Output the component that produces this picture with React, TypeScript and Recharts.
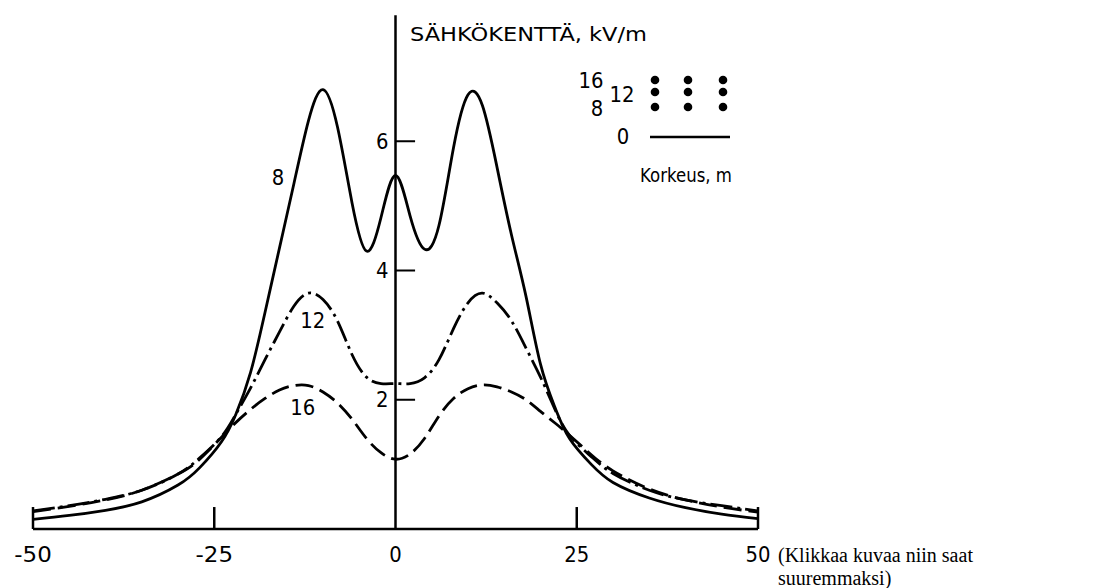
import React from 'react';
import { LineChart, Line, XAxis, YAxis, ReferenceLine, ReferenceDot } from 'recharts';

// distance from the line centre, m
const distance = [
  -50, -45, -40, -35, -30, -27, -24, -22, -20, -18, -16, -14, -12, -10, -8, -6, -4, -2, 0,
  2, 4, 6, 8, 10, 12, 14, 16, 18, 20, 22, 24, 27, 30, 35, 40, 45, 50,
];

// electric field (kV/m) at conductor heights 8, 12 and 16 m
const field8 = [
  0.15, 0.21, 0.29, 0.42, 0.68, 0.95, 1.35, 1.78, 2.42, 3.35, 4.35, 5.35, 6.32, 6.8, 6.22, 5.05, 4.3, 4.82, 5.47,
  4.85, 4.33, 4.7, 5.9, 6.72, 6.55, 5.6, 4.55, 3.6, 2.55, 1.88, 1.4, 1.0, 0.72, 0.48, 0.33, 0.23, 0.16,
];
const field12 = [
  0.28, 0.36, 0.46, 0.6, 0.85, 1.1, 1.43, 1.78, 2.18, 2.62, 3.05, 3.45, 3.65, 3.55, 3.22, 2.7, 2.35, 2.25, 2.25,
  2.25, 2.34, 2.62, 3.1, 3.5, 3.65, 3.5, 3.22, 2.8, 2.35, 1.85, 1.45, 1.12, 0.86, 0.6, 0.45, 0.36, 0.28,
];
const field16 = [
  0.27, 0.35, 0.45, 0.6, 0.85, 1.08, 1.42, 1.65, 1.85, 2.02, 2.15, 2.22, 2.22, 2.12, 1.95, 1.7, 1.4, 1.18, 1.08,
  1.16, 1.4, 1.75, 2.02, 2.17, 2.23, 2.2, 2.12, 2.0, 1.82, 1.64, 1.45, 1.15, 0.9, 0.62, 0.45, 0.34, 0.26,
];

const xTicks = [-50, -25, 0, 25, 50];
const xTickMarks = [-50, -25, 25, 50];
const yTicks = [2, 4, 6];

const curveLabels = [
  { text: '8', x: -16.2, y: 5.45 },
  { text: '12', x: -11.4, y: 3.24 },
  { text: '16', x: -12.8, y: 1.89 },
];

const data = distance.map((x, i) => ({ x, h8: field8[i], h12: field12[i], h16: field16[i] }));

const FONT = "'DejaVu Sans', sans-serif";
const INK = '#000';
const DIGIT_W = 12.5;
const PEN = 2.8;

// narrow drafting-style digits
const NarrowText = ({
  x,
  y,
  text,
  anchor = 'middle',
  size = 22,
  dy = '0.36em',
}: {
  x: number;
  y: number;
  text: string;
  anchor?: 'start' | 'middle' | 'end';
  size?: number;
  dy?: string;
}) => (
  <text
    x={x}
    y={y}
    dy={dy}
    textAnchor={anchor}
    fontFamily={FONT}
    fontSize={size}
    fill={INK}
    textLength={text.length * DIGIT_W}
    lengthAdjust="spacingAndGlyphs"
  >
    {text}
  </text>
);

const XTick = (props: any) => (
  <NarrowText x={props.x} y={props.y} text={String(props.payload.value)} dy="0.71em" />
);

const dotLabel = (text: string, anchor: 'middle' | 'end', dx: number, size: number) => (props: any) => {
  const vb = props.viewBox || {};
  const cx = (vb.x ?? 0) + (vb.width ?? 0) / 2;
  const cy = (vb.y ?? 0) + (vb.height ?? 0) / 2;
  return <NarrowText x={cx + dx} y={cy} text={text} anchor={anchor} size={size} />;
};

const Legend = () => (
  <svg
    width={1119}
    height={588}
    style={{ position: 'absolute', left: 0, top: 0, pointerEvents: 'none' }}
    fontFamily={FONT}
  >
    <text x={410} y={41} fontSize={20} fill={INK} textLength={237} lengthAdjust="spacingAndGlyphs">
      SÄHKÖKENTTÄ, kV/m
    </text>
    <NarrowText x={591} y={80} text="16" size={21} />
    <NarrowText x={622} y={94} text="12" size={21} />
    <NarrowText x={597} y={108} text="8" size={21} />
    {[655, 688, 723].map((cx) => (
      <g key={cx}>
        <circle cx={cx} cy={80} r={4.3} fill={INK} />
        <circle cx={cx} cy={92} r={4.3} fill={INK} />
        <circle cx={cx} cy={107} r={4.3} fill={INK} />
      </g>
    ))}
    <NarrowText x={623} y={136} text="0" size={21} />
    <line x1={650} y1={137} x2={730} y2={137} stroke={INK} strokeWidth={2.5} />
    <text x={640} y={182} fontSize={20} fill={INK} textLength={92} lengthAdjust="spacingAndGlyphs">
      Korkeus, m
    </text>
  </svg>
);

export default function App() {
  return (
    <div style={{ position: 'absolute', left: 0, top: 0, width: 1119, height: 588 }}>
      <div style={{ position: 'absolute', left: 0, top: 0 }}>
        <LineChart
          width={780}
          height={588}
          data={data}
          margin={{ top: 12, right: 22, left: 33, bottom: 29 }}
        >
          <XAxis
            dataKey="x"
            type="number"
            domain={[-50, 50]}
            ticks={xTicks}
            interval={0}
            tickLine={false}
            tickMargin={11}
            axisLine={{ stroke: INK, strokeWidth: 2.5 }}
            tick={<XTick />}
            allowDataOverflow
          />
          <YAxis type="number" domain={[0, 8]} hide allowDataOverflow />

          <ReferenceLine
            segment={[{ x: 0, y: 0 }, { x: 0, y: 7.95 }]}
            stroke={INK}
            strokeWidth={2.5}
          />
          {yTicks.map((v) => (
            <ReferenceLine
              key={`yt${v}`}
              segment={[{ x: 0, y: v }, { x: 2.7, y: v }]}
              stroke={INK}
              strokeWidth={2}
            />
          ))}
          {yTicks.map((v) => (
            <ReferenceDot
              key={`yl${v}`}
              x={0}
              y={v}
              r={0}
              stroke="none"
              fill="none"
              label={{ content: dotLabel(String(v), 'end', -7, 21) }}
            />
          ))}
          {xTickMarks.map((v) => (
            <ReferenceLine
              key={`xt${v}`}
              segment={[{ x: v, y: 0 }, { x: v, y: 0.34 }]}
              stroke={INK}
              strokeWidth={2.5}
            />
          ))}

          <Line
            type="natural"
            dataKey="h8"
            stroke={INK}
            strokeWidth={PEN}
            dot={false}
            isAnimationActive={false}
          />
          <Line
            type="natural"
            dataKey="h12"
            stroke={INK}
            strokeWidth={PEN}
            strokeDasharray="22 5 3 5"
            dot={false}
            isAnimationActive={false}
          />
          <Line
            type="natural"
            dataKey="h16"
            stroke={INK}
            strokeWidth={PEN}
            strokeDasharray="18 7"
            dot={false}
            isAnimationActive={false}
          />

          {curveLabels.map((c) => (
            <ReferenceDot
              key={c.text}
              x={c.x}
              y={c.y}
              r={0}
              stroke="none"
              fill="none"
              label={{ content: dotLabel(c.text, 'middle', 0, 22) }}
            />
          ))}
        </LineChart>
      </div>
      <Legend />
      <div
        style={{
          position: 'absolute',
          left: 778,
          top: 544,
          fontFamily: "'Liberation Serif', 'Times New Roman', serif",
          fontSize: 20,
          lineHeight: '23px',
          color: INK,
          whiteSpace: 'nowrap',
        }}
      >
        (Klikkaa kuvaa niin saat
        <br />
        suuremmaksi)
      </div>
    </div>
  );
}
